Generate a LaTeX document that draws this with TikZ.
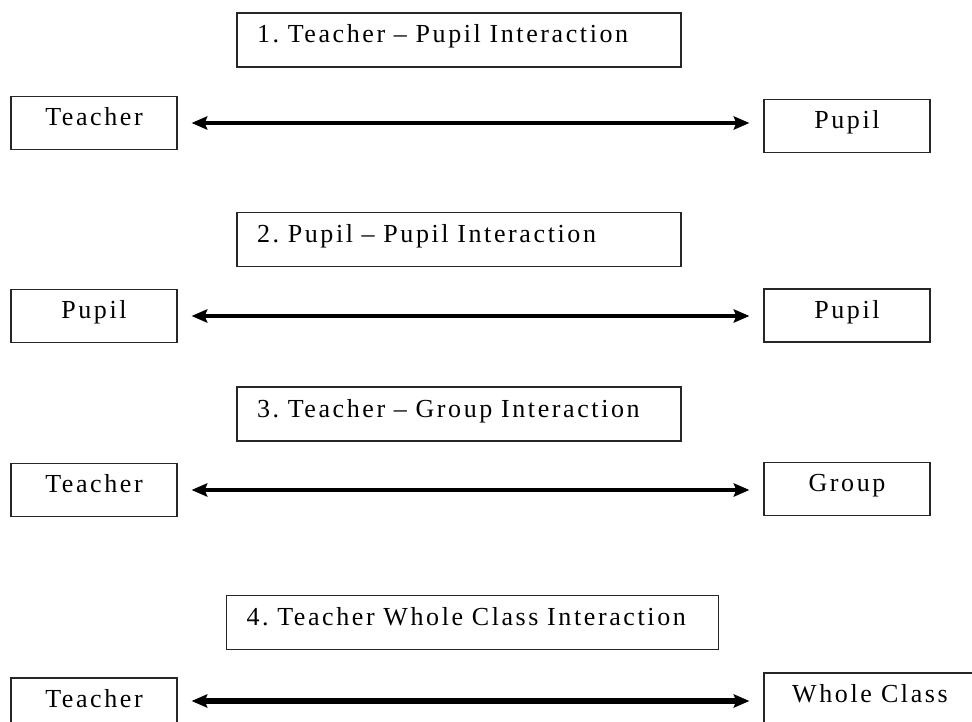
\documentclass[tikz,border=0pt]{standalone}
\usepackage{fontspec}
\setmainfont{Liberation Serif}[LetterSpace=10]
\usetikzlibrary{positioning, arrows.meta}
\tikzset{sbox/.style={draw=black!85, line width=1.4pt, minimum width=166pt, minimum height=53pt, inner sep=0pt, text height=17pt, text depth=12pt, font=\fontsize{26}{30}\selectfont}}
\tikzset{hbox/.style={sbox, text width=#1, align=left, inner xsep=20pt, minimum height=54pt, text depth=11pt}}
\tikzset{tip/.tip={Stealth[length=16pt, width=14pt, inset=3pt, line width=0pt]}}
\tikzset{arr/.style={draw, tip-tip, line width=4.5pt, shorten <=14pt, shorten >=14pt}}

\begin{document}
\begin{tikzpicture}[x=1pt, y=-1pt]
	\useasboundingbox (0,0) rectangle (972,722);
	%
	\node[hbox=404pt] (H1) at (459,40) {1.\ Teacher -- Pupil Interaction};
	\node[sbox] (L1) at (94,123) {Teacher};
	\node[sbox] (R1) at (847,126) {Pupil};
	\draw[arr] (L1.east) to (L1.east -| R1.west);
	%
	\node[hbox=404pt] (H2) at (459,239.5) {2.\ Pupil -- Pupil Interaction};
	\node[sbox] (L2) at (94,316) {Pupil};
	\node[sbox] (R2) at (847,315.5) {Pupil};
	\draw[arr] (L2.east) to (L2.east -| R2.west);
	%
	\node[hbox=404pt] (H3) at (459,414) {3.\ Teacher -- Group Interaction};
	\node[sbox] (L3) at (94,490) {Teacher};
	\node[sbox] (R3) at (847,489) {Group};
	\draw[arr] (L3.east) to (L3.east -| R3.west);
	%
	\node[hbox=452pt] (H4) at (472.5,622.5) {4.\ Teacher Whole Class Interaction};
	\node[sbox] (L4) at (94,704.5) {Teacher};
	\node[sbox, minimum width=212pt] (R4) at (870,699.5) {Whole Class};
	\draw[arr, line width=6.5pt] ([yshift=3.5pt]L4.east) to ([yshift=3.5pt]L4.east -| R4.west);
\end{tikzpicture}
\end{document}
